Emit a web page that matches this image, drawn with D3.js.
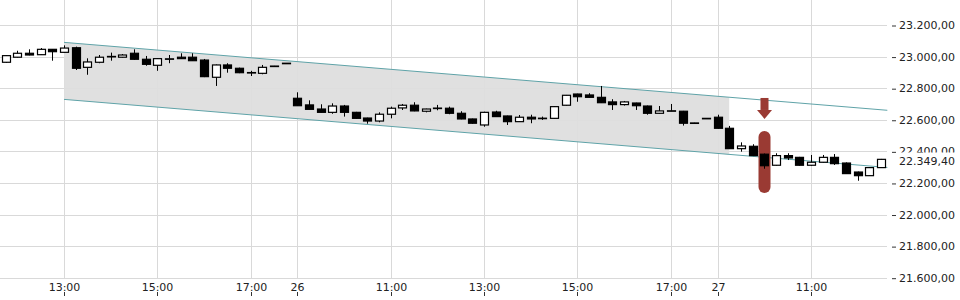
<!DOCTYPE html>
<html>
<head>
<meta charset="utf-8">
<script src="https://cdn.jsdelivr.net/npm/d3@7"></script>
<style>
  body { margin: 0; background: #fff; }
  svg { display: block; font-family: "DejaVu Sans", sans-serif; }
</style>
</head>
<body>
<script>
// candles, 15 min each (trading hours only)
var opens = [22964,22996,23021,23012,23046,23027,23056,22932,22964,23000,22996,23021,22983,22945,22985,22996,22996,22978,22869,22947,
  22926,22898,22894,22940,22958,22736,22694,22668,22647,22687,22647,22611,22592,22635,22675,22692,22654,22673,22673,22641,
  22605,22567,22649,22624,22588,22616,22609,22609,22692,22763,22757,22742,22713,22696,22706,22687,22641,22656,22654,22580,
  22609,22616,22546,22417,22432,22382,22312,22373,22362,22312,22331,22362,22326,22269,22246,22297];
var highs = [23010,23037,23046,23054,23048,23071,23063,22989,23010,23025,23016,23046,23004,22990,23010,23021,23021,22985,22950,22958,
  22930,22910,22947,22941,22959,22774,22723,22698,22704,22694,22650,22613,22647,22683,22700,22711,22670,22694,22683,22654,
  22607,22651,22657,22626,22630,22632,22620,22685,22757,22765,22768,22814,22730,22719,22708,22690,22687,22700,22656,22581,
  22610,22632,22561,22457,22445,22386,22388,22388,22365,22377,22377,22383,22330,22272,22300,22352];
var lows = [22960,22994,23008,23010,22974,23025,22915,22885,22958,22974,22994,22980,22942,22910,22958,22985,22972,22870,22814,22898,
  22895,22877,22888,22939,22957,22689,22666,22647,22638,22620,22607,22575,22584,22609,22662,22654,22647,22660,22635,22603,
  22575,22556,22618,22567,22586,22578,22599,22607,22690,22714,22740,22706,22662,22690,22662,22632,22639,22654,22563,22579,
  22608,22544,22415,22398,22370,22290,22310,22345,22310,22308,22329,22314,22257,22214,22244,22295];
var closes = [23006,23021,23010,23046,23031,23054,22926,22966,22996,23001,23010,22983,22951,22987,22986,22987,22974,22873,22947,22926,
  22898,22899,22932,22940,22958,22689,22666,22647,22687,22647,22609,22592,22635,22673,22692,22656,22668,22674,22641,22605,
  22578,22647,22620,22588,22616,22605,22610,22683,22755,22746,22742,22708,22696,22713,22689,22641,22656,22657,22578,22580,
  22609,22546,22417,22434,22373,22309,22373,22358,22312,22331,22362,22322,22259,22246,22297,22349.4];

var tickIdx = [5,13,21,25,33,41,49,57,61,69];
var tickLabels = ["13:00","15:00","17:00","26","11:00","13:00","15:00","17:00","27","11:00"];
var yTicks = [23200,23000,22800,22600,22400,22200,22000,21800,21600];

// trend channel (index, value)
var chanIdx = [5, 75.55];
var chanUpper = [23090, 22660];
var chanLower = [22729, 22298];
var chanFillEnd = 62;

// signal marker
var markIdx = 65;
var markPill = [22529, 22137];
var markArrow = [22738, 22662, 22605];

var W = 960, H = 300;
var svg = d3.select("body").append("svg").attr("width", W).attr("height", H);

var x = d3.scaleLinear().domain([0, 75]).range([5.65, 880.9]);
var y = d3.scaleLinear().domain([21600, 23200]).range([277.7, 25]);
var de = d3.formatLocale({decimal: ",", thousands: ".", grouping: [3], currency: ["", ""]});
var fmt = de.format(",.2f");

// grid
svg.append("g").selectAll("line").data(yTicks).enter().append("line")
  .attr("x1", 0).attr("x2", 887)
  .attr("y1", function(d) { return Math.round(y(d)) + 0.5; })
  .attr("y2", function(d) { return Math.round(y(d)) + 0.5; })
  .attr("stroke", "#d9d9d9");
svg.append("g").selectAll("line").data(tickIdx).enter().append("line")
  .attr("y1", 0).attr("y2", 278)
  .attr("x1", function(d) { return Math.round(x(d)) + 0.5; })
  .attr("x2", function(d) { return Math.round(x(d)) + 0.5; })
  .attr("stroke", "#d9d9d9");

// channel
function lineAt(vals, i) {
  var t = (i - chanIdx[0]) / (chanIdx[1] - chanIdx[0]);
  return vals[0] + (vals[1] - vals[0]) * t;
}
var fillPts = [
  [x(chanIdx[0]), y(chanUpper[0])],
  [x(chanFillEnd), y(lineAt(chanUpper, chanFillEnd))],
  [x(chanFillEnd), y(lineAt(chanLower, chanFillEnd))],
  [x(chanIdx[0]), y(chanLower[0])]
];
svg.append("path").attr("d", "M" + fillPts.join("L") + "Z").attr("fill", "#dedede").attr("fill-opacity", 0.95);
[chanUpper, chanLower].forEach(function(v) {
  svg.append("line")
    .attr("x1", x(chanIdx[0])).attr("y1", y(v[0]))
    .attr("x2", x(chanIdx[1])).attr("y2", y(v[1]))
    .attr("stroke", "#5fa3a8").attr("stroke-width", 1);
});

// signal marker
var mx = Math.round(x(markIdx)) + 0.5;
svg.append("rect")
  .attr("x", mx - 6).attr("width", 12)
  .attr("y", y(markPill[0])).attr("height", y(markPill[1]) - y(markPill[0]))
  .attr("rx", 6).attr("fill", "#9a3a33");
svg.append("rect")
  .attr("x", mx - 4).attr("width", 8)
  .attr("y", y(markArrow[0])).attr("height", y(markArrow[1]) - y(markArrow[0]))
  .attr("fill", "#9a3a33");
svg.append("path")
  .attr("d", "M" + (mx - 7.5) + "," + y(markArrow[1]) + "L" + (mx + 7.5) + "," + y(markArrow[1]) + "L" + mx + "," + y(markArrow[2]) + "Z")
  .attr("fill", "#9a3a33");

// candles
var candles = d3.range(opens.length).map(function(i) {
  return {i: i, o: opens[i], h: highs[i], l: lows[i], c: closes[i]};
});
var cg = svg.append("g").selectAll("g").data(candles).enter().append("g");
cg.append("line")
  .attr("x1", function(d) { return Math.round(x(d.i)) + 0.5; })
  .attr("x2", function(d) { return Math.round(x(d.i)) + 0.5; })
  .attr("y1", function(d) { return y(d.h); })
  .attr("y2", function(d) { return y(d.l); })
  .attr("stroke", "#000");
cg.append("rect")
  .attr("x", function(d) { return Math.round(x(d.i)) - 3.5; })
  .attr("width", 8)
  .attr("y", function(d) { return y(Math.max(d.o, d.c)); })
  .attr("height", function(d) { return Math.max(0.5, Math.abs(y(d.o) - y(d.c))); })
  .attr("fill", function(d) { return d.c >= d.o ? "#fff" : "#000"; })
  .attr("stroke", "#000").attr("stroke-width", 1.2);

// y axis
var yAxis = d3.axisRight(y).tickValues(yTicks).tickSize(4).tickPadding(3).tickFormat(fmt);
var ya = svg.append("g").attr("transform", "translate(892,0)").call(yAxis);
ya.select(".domain").remove();
ya.selectAll("line").attr("stroke", "#333").attr("transform", "translate(0,0.5)");
ya.selectAll("text").attr("font-size", 11).attr("fill", "#222").attr("font-family", "DejaVu Sans");

// last price label (sits over the 22.400 label, as in the source)
var last = closes[closes.length - 1];
var ly = Math.round(y(last));
svg.append("rect").attr("x", 896).attr("y", ly - 6.5).attr("width", 64).attr("height", 15).attr("fill", "#fff");
svg.append("text").attr("x", 899).attr("y", ly + 2).attr("dy", "0.32em")
  .attr("font-size", 11).attr("fill", "#222").text(fmt(last));

// x axis
var xAxis = d3.axisTop(x).tickValues(tickIdx).tickSize(4).tickPadding(1)
  .tickFormat(function(d, i) { return tickLabels[i]; });
var xa = svg.append("g").attr("transform", "translate(0.5,296)").call(xAxis);
xa.select(".domain").remove();
xa.selectAll(".tick").attr("transform", function(d) { return "translate(" + Math.round(x(d)) + ",0)"; });
xa.selectAll("line").attr("stroke", "#333");
xa.selectAll("text").attr("font-size", 11).attr("fill", "#222").attr("font-family", "DejaVu Sans");
</script>
</body>
</html>
